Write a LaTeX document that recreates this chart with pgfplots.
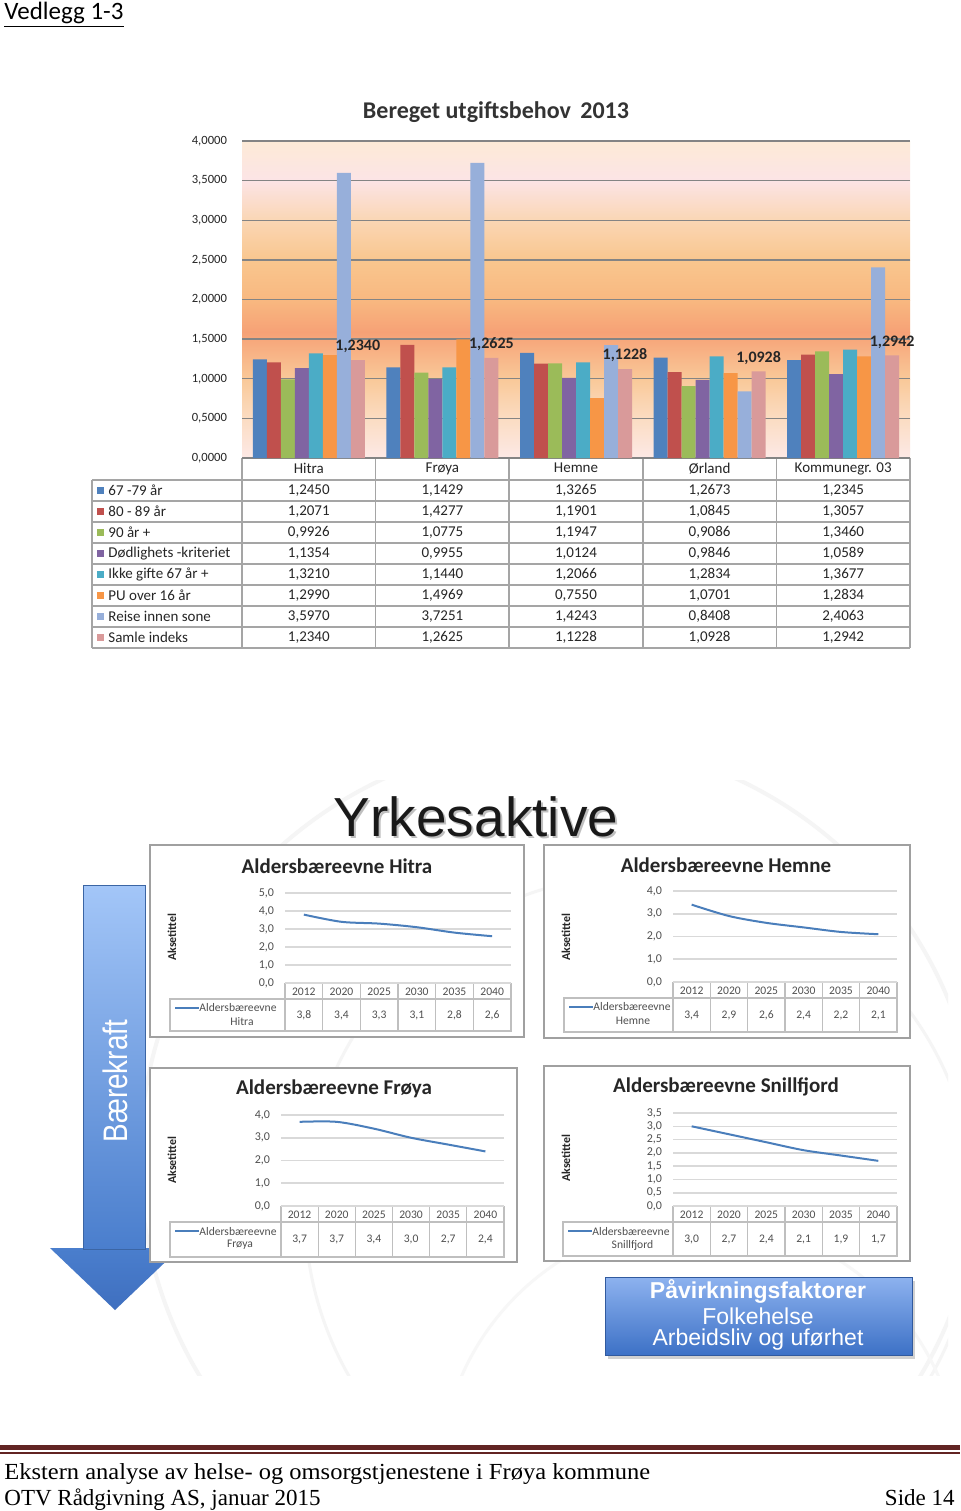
\documentclass[border=0pt]{standalone}
\usepackage{pgfplots}
\pgfplotsset{compat=1.18}
\usepackage{pgfplotstable}
\usepackage{graphicx}
\usepackage{fontspec}
\setmainfont{Carlito}
\newfontfamily\arialfont{Liberation Sans}
\newfontfamily\footfont{Liberation Serif}

% series colours (Excel 2007 palette)
\definecolor{c1}{HTML}{4F81BD}
\definecolor{c2}{HTML}{C0504D}
\definecolor{c3}{HTML}{9BBB59}
\definecolor{c4}{HTML}{8064A2}
\definecolor{c5}{HTML}{4BACC6}
\definecolor{c6}{HTML}{F79646}
\definecolor{c7}{HTML}{97AFDA}
\definecolor{c8}{HTML}{D99A9A}
% chart background bands
\definecolor{bg1}{HTML}{FDEAD6}
\definecolor{bg2}{HTML}{FCE4E6}
\definecolor{bg3}{HTML}{FAD6B4}
\definecolor{bg4}{HTML}{F9C68E}
\definecolor{bg5}{HTML}{F8B880}
\definecolor{bg6}{HTML}{F6A176}
\definecolor{bg7}{HTML}{F7A77B}
\definecolor{bg8}{HTML}{F9C999}
\definecolor{bg9}{HTML}{FBDCC2}
\definecolor{bg10}{HTML}{FDE9E6}
\definecolor{gridc}{HTML}{848484}
\definecolor{tblc}{HTML}{A5A5A5}
\definecolor{pgrid}{HTML}{D9D9D9}
\definecolor{pline}{HTML}{4A7EBB}
\definecolor{ptbl}{HTML}{BFBFBF}
\definecolor{ptext}{HTML}{505050}
\definecolor{pframe}{HTML}{A0A0A0}
\definecolor{arrowtop}{HTML}{A3C6F8}
\definecolor{arrowbot}{HTML}{4A7ECD}
\definecolor{arrowtip}{HTML}{3F6FBF}
\definecolor{boxtop}{HTML}{8DB2EF}
\definecolor{boxbot}{HTML}{3D71C6}
\definecolor{footc}{HTML}{622423}

% Beregnet utgiftsbehov 2013, one column per criterion, one row per kommune
\pgfplotstableread{
x a      b      c      d      e      f      g      h
0 1.2450 1.2071 0.9926 1.1354 1.3210 1.2990 3.5970 1.2340
1 1.1429 1.4277 1.0775 0.9955 1.1440 1.4969 3.7251 1.2625
2 1.3265 1.1901 1.1947 1.0124 1.2066 0.7550 1.4243 1.1228
3 1.2673 1.0845 0.9086 0.9846 1.2834 1.0701 0.8408 1.0928
4 1.2345 1.3057 1.3460 1.0589 1.3677 1.2834 2.4063 1.2942
}\utgift

% Aldersbaereevne 2012-2040
\pgfplotstableread{
x hitra hemne froya snill
0 3.8 3.4 3.7 3.0
1 3.4 2.9 3.7 2.7
2 3.3 2.6 3.4 2.4
3 3.1 2.4 3.0 2.1
4 2.8 2.2 2.7 1.9
5 2.6 2.1 2.4 1.7
}\baere

\pgfplotsset{
  panel/.style={anchor=south west, scale only axis, xmin=-0.5, xmax=5.5, ymin=0,
    xtick={0,...,5}, xticklabels={2012,2020,2025,2030,2035,2040},
    ymajorgrids, grid style={draw=pgrid, line width=0.8pt},
    axis line style={draw=none}, major tick length=0pt,
    tick label style={text=ptext},
    xticklabel style={font=\fontsize{5.8}{7}\selectfont, yshift=1pt},
    yticklabel style={font=\fontsize{6}{7}\selectfont, xshift=-2pt,
      /pgf/number format/.cd, fixed, fixed zerofill, precision=1, use comma, assume math mode=true},
    clip=false},
}

\tikzset{
  tbl/.style={draw=tblc, line width=0.75pt},
  ptb/.style={draw=ptbl, line width=0.6pt},
  tabfont/.style={font=\fontsize{7.5}{9}\selectfont, text=black!85, inner sep=0pt},
  small/.style={font=\fontsize{5.8}{7}\selectfont, text=ptext, inner sep=0pt},
}

% table under a small panel: L, P, R, A (axis), Y (year row bottom), B (bottom), name
\newcommand{\ptable}[7]{%
  \draw[ptb] (#2,#4) -- (#3,#4);
  \draw[ptb] (#1,#5) rectangle (#3,#6);
  \foreach \k in {0,...,6} \draw[ptb] ({#2+\k*(#3-#2)/6},#4) -- ({#2+\k*(#3-#2)/6},#6);
  \draw[pline, line width=1pt] ({#1+5},{#5+9}) -- ({#1+29},{#5+9});
  \node[small, anchor=west] at ({#1+29},{#5+9}) {Aldersbæreevne};
  \node[small] at ({(#1+29+#2)/2},{#5+23}) {#7};
}
% values row: P, R, y, column
\newcommand{\pvals}[4]{%
  \foreach \k in {0,...,5} {
    \pgfplotstablegetelem{\k}{#4}\of\baere
    \node[small] at ({#1+(\k+0.5)*(#2-#1)/6},#3)
      {\pgfmathprintnumber[fixed,fixed zerofill,precision=1,use comma,assume math mode=true]{\pgfplotsretval}};
  }
}

\begin{document}
\begin{tikzpicture}
\begin{scope}[x=0.5pt,y=-0.5pt]
\fill[white] (0,0) rectangle (960,1511);
\useasboundingbox (0,0) rectangle (960,1511);

\node[anchor=base west, inner sep=0pt, font=\fontsize{12.5}{15}\selectfont] at (4,19) {\underline{Vedlegg 1-3}};

% ---------- top chart ----------
\node[font=\bfseries\fontsize{12}{14}\selectfont, text=black!80] at (496,112) {Bereget utgiftsbehov\, 2013};
\foreach \ya/\yb/\ca/\cb in {141/180.5/bg1/bg2, 180/220.5/bg2/bg3, 220/260.5/bg3/bg4, 260/300.5/bg4/bg5,
  300/332.5/bg5/bg6, 332/339.5/bg6/bg7, 339/379.5/bg7/bg8, 379/418.5/bg8/bg9, 418/458/bg9/bg10}
  \fill[top color=\ca, bottom color=\cb] (242,\ya) rectangle (910,\yb);

\foreach \r in {0,...,8} \draw[tbl] (92,{480+\r*21}) -- (910,{480+\r*21});
\foreach \k in {0,...,5} \draw[tbl] ({242+\k*133.6},458) -- ({242+\k*133.6},648);
\draw[tbl] (92,480) -- (92,648);

\foreach \n/\col [count=\r from 0] in {67 -79 år/c1, 80 - 89 år/c2, 90 år +/c3, Dødlighets -kriteriet/c4,
  Ikke gifte 67 år +/c5, PU over 16 år/c6, Reise innen sone/c7, Samle indeks/c8} {
  \fill[\col] (97,{487+\r*21}) rectangle (104,{494+\r*21});
  \node[tabfont, anchor=west] at (108,{490.5+\r*21}) {\n};
}
\foreach \c [count=\r from 0] in {a,b,c,d,e,f,g,h} {
  \foreach \k in {0,...,4} {
    \pgfplotstablegetelem{\k}{\c}\of\utgift
    \node[tabfont] at ({242+(\k+0.5)*133.6},{490.5+\r*21})
      {\pgfmathprintnumber[fixed,fixed zerofill,precision=4,use comma,assume math mode=true]{\pgfplotsretval}};
  }
}
\end{scope}

\begin{axis}[
  at={(121pt,-229pt)}, anchor=south west,
  scale only axis, width=334pt, height=158.5pt,
  ybar=0pt, bar width=7pt,
  xmin=-0.5, xmax=4.5, ymin=0, ymax=4,
  xtick={0,...,4}, xticklabels={Hitra,Frøya,Hemne,Ørland,Kommunegr. 03},
  ytick={0,0.5,...,4},
  ymajorgrids, grid style={draw=gridc, line width=0.7pt},
  axis line style={draw=none}, major tick length=0pt,
  xticklabel style={font=\fontsize{7.5}{9}\selectfont, text=black!85, yshift=1pt},
  yticklabel style={font=\fontsize{6.3}{7}\selectfont, text=black!85, xshift=-4pt,
    /pgf/number format/.cd, fixed, fixed zerofill, precision=4, use comma, assume math mode=true},
  clip=false,
]
\addplot[fill=c1, draw=none] table[x=x, y=a] {\utgift};
\addplot[fill=c2, draw=none] table[x=x, y=b] {\utgift};
\addplot[fill=c3, draw=none] table[x=x, y=c] {\utgift};
\addplot[fill=c4, draw=none] table[x=x, y=d] {\utgift};
\addplot[fill=c5, draw=none] table[x=x, y=e] {\utgift};
\addplot[fill=c6, draw=none] table[x=x, y=f] {\utgift};
\addplot[fill=c7, draw=none] table[x=x, y=g] {\utgift};
\addplot[fill=c8, draw=none, nodes near coords,
  every node near coord/.append style={font=\bfseries\fontsize{8}{9}\selectfont, text=black!85,
    /pgf/number format/.cd, fixed, fixed zerofill, precision=4, use comma, assume math mode=true}]
  table[x=x, y=h] {\utgift};
\end{axis}

% ---------- lower figure ----------
\begin{scope}[x=0.5pt,y=-0.5pt]
\begin{scope}
  \clip (40,780) rectangle (948,1375);
  \draw[black!4, line width=2pt] (560,1160) circle (420);
  \draw[black!4, line width=1.5pt] (640,1210) circle (335);
  \draw[black!3, line width=1.5pt] (700,1480) circle (260);
\end{scope}

\node[font=\arialfont\fontsize{27.5}{30}\selectfont, text=black!25] at (478,819) {Yrkesaktive};
\node[font=\arialfont\fontsize{27.5}{30}\selectfont, text=black!90] at (476,817) {Yrkesaktive};

% arrow
\shade[top color=arrowbot, bottom color=arrowtip] (50,1248) -- (180,1248) -- (115,1310) -- cycle;
\shade[top color=arrowtop, bottom color=arrowbot, draw=arrowbot!80!black, line width=0.4pt] (83,885) rectangle (145,1249);
\node[rotate=90, text=white, font=\arialfont\fontsize{17}{17}\selectfont] at (115,1081) {\scalebox{0.82}[1]{Bærekraft}};

% panel frames
\draw[pframe, fill=white, line width=0.8pt] (150,845) rectangle (524,1037);
\draw[pframe, fill=white, line width=0.8pt] (544,845) rectangle (910,1038);
\draw[pframe, fill=white, line width=0.8pt] (150,1068) rectangle (517,1262);
\draw[pframe, fill=white, line width=0.8pt] (544,1066) rectangle (910,1261);

\node[font=\bfseries\fontsize{10.5}{12}\selectfont, text=black!85] at (337,866) {Aldersbæreevne Hitra};
\node[font=\bfseries\fontsize{10.5}{12}\selectfont, text=black!85] at (726,865) {Aldersbæreevne Hemne};
\node[font=\bfseries\fontsize{10.5}{12}\selectfont, text=black!85] at (334,1089) {Aldersbæreevne Frøya};
\node[font=\bfseries\fontsize{10.5}{12}\selectfont, text=black!85] at (726,1087) {Aldersbæreevne Snillfjord};

\foreach \px/\py in {172/937, 566/937, 172/1160, 566/1158}
  \node[rotate=90, font=\bfseries\fontsize{6}{7}\selectfont, text=black!85] at (\px,\py) {Aksetittel};

\ptable{170}{285}{511}{983}{999}{1031}{Hitra}
\pvals{285}{511}{1015}{hitra}
\ptable{564}{673}{897}{982}{998}{1032}{Hemne}
\pvals{673}{897}{1015}{hemne}
\ptable{170}{281}{504}{1206}{1222}{1257}{Frøya}
\pvals{281}{504}{1239.5}{froya}
\ptable{563}{673}{897}{1206}{1222}{1256}{Snillfjord}
\pvals{673}{897}{1239}{snill}
\end{scope}

\begin{axis}[panel, at={(142.5pt,-491.5pt)}, width=113pt, height=45pt, ymax=5, ytick={0,1,...,5}]
\addplot[pline, line width=1pt, smooth] table[x=x, y=hitra] {\baere};
\end{axis}
\begin{axis}[panel, at={(336.5pt,-491pt)}, width=112pt, height=45.5pt, ymax=4, ytick={0,1,...,4}]
\addplot[pline, line width=1pt, smooth] table[x=x, y=hemne] {\baere};
\end{axis}
\begin{axis}[panel, at={(140.5pt,-603pt)}, width=111.5pt, height=45.5pt, ymax=4, ytick={0,1,...,4}]
\addplot[pline, line width=1pt, smooth] table[x=x, y=froya] {\baere};
\end{axis}
\begin{axis}[panel, at={(336.5pt,-603pt)}, width=112pt, height=46.5pt, ymax=3.5, ytick={0,0.5,...,3.5}]
\addplot[pline, line width=1pt, smooth] table[x=x, y=snill] {\baere};
\end{axis}

\begin{scope}[x=0.5pt,y=-0.5pt]
% box with influencing factors
\fill[black!18] (608,1281) rectangle (915,1359);
\shade[top color=boxtop, bottom color=boxbot, draw=boxbot!80!black, line width=0.4pt] (605,1277) rectangle (912,1355);
\node[text=white, font=\arialfont\bfseries\fontsize{11.5}{13}\selectfont] at (758,1291) {Påvirkningsfaktorer};
\node[text=white, font=\arialfont\fontsize{11.5}{13}\selectfont] at (758,1316) {Folkehelse};
\node[text=white, font=\arialfont\fontsize{11.5}{13}\selectfont] at (758,1340) {Arbeidsliv og uførhet};

% footer
\fill[footc] (0,1445) rectangle (960,1450);
\fill[footc] (0,1452) rectangle (960,1453.5);
\node[anchor=base west, inner sep=0pt, font=\footfont\fontsize{11.5}{13}\selectfont] at (4,1479) {\scalebox{1.065}[1]{Ekstern analyse av helse- og omsorgstjenestene i Frøya kommune}};
\node[anchor=base west, inner sep=0pt, font=\footfont\fontsize{11.5}{13}\selectfont] at (4,1505) {OTV Rådgivning AS, januar 2015};
\node[anchor=base east, inner sep=0pt, font=\footfont\fontsize{11.5}{13}\selectfont] at (955,1505) {Side 14};
\end{scope}
\end{tikzpicture}
\end{document}
